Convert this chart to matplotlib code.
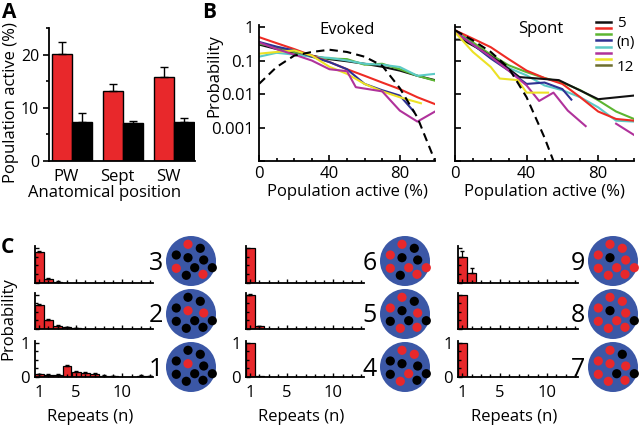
import numpy as np
import matplotlib
matplotlib.use('Agg')
import matplotlib.pyplot as plt
from matplotlib.patches import Circle
from matplotlib.lines import Line2D
from matplotlib.ticker import MultipleLocator, FixedLocator, NullLocator

plt.rcParams['font.family'] = ['Open Sans', 'DejaVu Sans']

#### data ####

# panel A: population active per anatomical position
positions = ['PW', 'Sept', 'SW']
evoked_mean = [20.2, 13.1, 15.8]
evoked_err = [2.2, 1.4, 1.8]
spont_mean = [7.3, 7.1, 7.4]
spont_err = [1.7, 0.5, 0.7]

# panel B: probability vs population active, one line per ensemble size
line_labels = ['5', '', '', '(n)', '', '', '', '12']
line_colors = ['#111111', '#ee2b24', '#5cb531', '#2e3192', '#5ccac6', '#b0329b', '#ece125', '#6d6e2e']

ev_x = [0, 10, 20, 30, 40, 50, 60, 70, 80, 90, 100]
ev_black = [0.30, 0.22, 0.17, 0.14, 0.11, 0.095, 0.08, 0.065, 0.05, 0.035, 0.026]
ev_red = [0.50, 0.33, 0.22, 0.14, 0.09, 0.055, 0.035, 0.022, 0.014, 0.008, 0.005]
ev_green = [0.32, 0.25, 0.18, 0.13, 0.115, 0.11, 0.075, 0.08, 0.055, 0.035, 0.025]
ev_blue_x = [0, 10, 20, 30, 40, 50, 60, 70, 80, 88]
ev_blue = [0.36, 0.26, 0.20, 0.13, 0.09, 0.055, 0.02, 0.013, 0.009, 0.003]
ev_cyan = [0.13, 0.17, 0.15, 0.13, 0.12, 0.10, 0.08, 0.075, 0.064, 0.035, 0.04]
ev_mag_x = [0, 10, 20, 30, 40, 50, 55, 70, 80, 90, 100]
ev_magenta = [0.35, 0.22, 0.15, 0.10, 0.055, 0.048, 0.016, 0.012, 0.0032, 0.0015, 0.003]
ev_yel_x = [0, 10, 20, 30, 40, 50, 60, 70, 80, 92]
ev_yellow = [0.16, 0.18, 0.20, 0.14, 0.065, 0.04, 0.02, 0.012, 0.008, 0.0053]
ev_model = [0.02, 0.064, 0.14, 0.18, 0.21, 0.18, 0.13, 0.07, 0.015, 0.002, 0.0001]

sp_black_x = [0, 4, 15, 25, 36, 58, 80, 100]
sp_black = [0.42, 0.42, 0.2, 0.09, 0.032, 0.026, 0.007, 0.009]
sp_x = [0, 10, 20, 30, 40, 50, 60, 70, 80, 90, 100]
sp_red = [0.8, 0.45, 0.25, 0.11, 0.05, 0.03, 0.02, 0.008, 0.003, 0.0018, 0.0016]
sp_green = [0.8, 0.35, 0.15, 0.072, 0.045, 0.03, 0.022, 0.013, 0.0065, 0.003, 0.0018]
sp_cyan = [0.75, 0.3, 0.12, 0.06, 0.036, 0.018, 0.013, 0.008, 0.004, 0.0016, 0.0015]
sp_blue_x = [0, 10, 20, 30, 40, 50, 60, 65]
sp_blue = [0.7, 0.3, 0.115, 0.05, 0.02, 0.022, 0.014, 0.0068]
sp_mag_x = [0, 10, 20, 30, 40, 47, 55, 63, 73, 80, 90, 100]
sp_magenta = [0.7, 0.3, 0.13, 0.05, 0.018, 0.0062, 0.011, 0.0032, 0.0011, np.nan, 0.0013, 0.0006]
sp_yel_x = [0, 10, 20, 25, 35, 40, 52]
sp_yellow = [0.7, 0.18, 0.064, 0.029, 0.026, 0.011, 0.011]
sp_model_x = [0, 10, 20, 30, 40, 50, 55]
sp_model = [0.8, 0.4, 0.18, 0.06, 0.008, 0.0005, 0.0001]

# panel C: probability of repeats for ensembles with 1..9 active cells
repeats = np.arange(1, 14)
prob_1 = [0.08, 0.07, 0.07, 0.32, 0.15, 0.13, 0.09, 0.04, 0.03, 0.01, 0.01, 0.04, 0.03]
prob_2 = [0.70, 0.26, 0.10, 0.05, 0.03, 0.01, 0, 0, 0.01, 0.01, 0, 0, 0]
prob_3 = [0.87, 0.12, 0.04, 0.01, 0, 0, 0, 0, 0, 0, 0, 0, 0]
prob_4 = [1.0, 0.02, 0, 0, 0, 0, 0, 0, 0, 0, 0, 0, 0]
prob_5 = [0.98, 0.08, 0, 0, 0, 0, 0, 0, 0, 0, 0, 0, 0]
prob_6 = [1.0, 0, 0, 0, 0, 0, 0, 0, 0, 0, 0, 0, 0]
prob_7 = [1.0, 0, 0, 0, 0, 0, 0, 0, 0, 0, 0, 0, 0]
prob_8 = [1.0, 0, 0, 0, 0, 0, 0, 0, 0, 0, 0, 0, 0]
prob_9 = [0.75, 0.29, 0, 0, 0, 0, 0, 0, 0, 0, 0, 0, 0]
err_1 = [0.02, 0.02, 0.02, 0.03, 0.03, 0.03, 0.02, 0.02, 0.01, 0, 0, 0.02, 0.01]
err_2 = [0.03, 0.03, 0.02, 0.01, 0.01, 0, 0, 0, 0, 0, 0, 0, 0]
err_3 = [0.03, 0.02, 0.01, 0, 0, 0, 0, 0, 0, 0, 0, 0, 0]
err_5 = [0.03, 0.02, 0, 0, 0, 0, 0, 0, 0, 0, 0, 0, 0]
err_9 = [0.15, 0.13, 0, 0, 0, 0, 0, 0, 0, 0, 0, 0, 0]

# which of the 10 whisker dots are active in each pattern
active_1 = [4]
active_2 = [4, 5]
active_3 = [1, 6, 10]
active_4 = [1, 2, 7, 9]
active_5 = [1, 3, 5, 9, 10]
active_6 = [1, 3, 6, 7, 8, 10]
active_7 = [1, 3, 4, 5, 6, 9, 10]
active_8 = [1, 2, 3, 5, 6, 7, 9, 10]
active_9 = [1, 2, 3, 5, 6, 7, 8, 9, 10]

#### figure ####
W, H = 640, 429
RED = '#e8282b'


def rect(l, t, r, b):
    return [l / W, 1 - b / H, (r - l) / W, (b - t) / H]


fig = plt.figure(figsize=(6.4, 4.29), dpi=100)

# ---- A ----
axA = fig.add_axes(rect(49, 28, 195, 161))
x = np.arange(len(positions))
bw = 0.39
axA.bar(x - bw / 2, evoked_mean, bw, color=RED, edgecolor='k', linewidth=1)
axA.bar(x + bw / 2, spont_mean, bw, color='k', edgecolor='k', linewidth=1)
axA.errorbar(x - bw / 2, evoked_mean, yerr=[np.zeros(3), evoked_err], fmt='none',
             ecolor='k', elinewidth=1, capsize=3)
axA.errorbar(x + bw / 2, spont_mean, yerr=[np.zeros(3), spont_err], fmt='none',
             ecolor='k', elinewidth=1, capsize=3)
axA.set_xlim(-0.45, 2.41)
axA.set_ylim(0, 25)
axA.set_xticks(x - 0.12)
axA.set_xticklabels(positions, fontsize=12)
axA.set_yticks([0, 10, 20])
axA.yaxis.set_minor_locator(FixedLocator([5, 15, 25]))
axA.tick_params(axis='x', length=0, pad=6)
axA.tick_params(axis='y', labelsize=11.5, length=4, width=1.2, pad=3)
axA.tick_params(axis='y', which='minor', length=2, width=1.2)
for s in ['top', 'right']:
    axA.spines[s].set_visible(False)
for s in ['left', 'bottom']:
    axA.spines[s].set_linewidth(1.3)
axA.set_ylabel('Population active (%)', fontsize=12)
axA.yaxis.set_label_coords(-0.205, 0.44)
axA.set_xlabel('Anatomical position', fontsize=12)
axA.xaxis.set_label_coords(0.38, -0.18)

# ---- B ----
axE = fig.add_axes(rect(259, 25, 435, 161))
axS = fig.add_axes(rect(455, 25, 634, 161))

axE.plot(ev_x, ev_black, color=line_colors[0], lw=1.5)
axE.plot(ev_x, ev_green, color=line_colors[2], lw=1.5)
axE.plot(ev_x, ev_cyan, color=line_colors[4], lw=1.5)
axE.plot(ev_x, ev_red, color=line_colors[1], lw=1.5)
axE.plot(ev_blue_x, ev_blue, color=line_colors[3], lw=1.5)
axE.plot(ev_yel_x, ev_yellow, color=line_colors[6], lw=1.5)
axE.plot(ev_mag_x, ev_magenta, color=line_colors[5], lw=1.5)
axE.plot(ev_x, ev_model, color='k', lw=1.5, ls=(0, (4, 2.5)))

axS.plot(sp_x, sp_green, color=line_colors[2], lw=1.5)
axS.plot(sp_x, sp_cyan, color=line_colors[4], lw=1.5)
axS.plot(sp_x, sp_red, color=line_colors[1], lw=1.5)
axS.plot(sp_black_x, sp_black, color=line_colors[0], lw=1.5)
axS.plot(sp_blue_x, sp_blue, color=line_colors[3], lw=1.5)
axS.plot(sp_mag_x, sp_magenta, color=line_colors[5], lw=1.5)
axS.plot(sp_yel_x, sp_yellow, color=line_colors[6], lw=1.5)
axS.plot(sp_model_x, sp_model, color='k', lw=1.5, ls=(0, (4, 2.5)))

for ax in (axE, axS):
    ax.set_yscale('log')
    ax.set_ylim(1e-4, 1.15)
    ax.set_xlim(0, 100)
    ax.set_yticks([1, 0.1, 0.01, 0.001, 0.0001])
    ax.yaxis.set_minor_locator(NullLocator())
    ax.set_xticks([0, 40, 80])
    ax.xaxis.set_minor_locator(MultipleLocator(10))
    ax.tick_params(direction='in', length=4, width=1.2, labelsize=12)
    ax.tick_params(which='minor', direction='in', length=2.5, width=1.2)
    for s in ['top', 'right']:
        ax.spines[s].set_visible(False)
    for s in ['left', 'bottom']:
        ax.spines[s].set_linewidth(1.3)
    ax.set_xlabel('Population active (%)', fontsize=12)
    ax.xaxis.set_label_coords(0.5, -0.17)

axE.set_yticklabels(['1', '0.1', '0.01', '0.001', ''])
axS.set_yticklabels([])
axE.set_ylabel('Probability', fontsize=12)
axE.yaxis.set_label_coords(-0.21, 0.63)
axE.text(0.5, 1.02, 'Evoked', transform=axE.transAxes, ha='center', va='top', fontsize=12)
axS.text(0.48, 1.03, 'Spont', transform=axS.transAxes, ha='center', va='top', fontsize=12)

handles = [Line2D([], [], color=c, lw=1.8) for c in line_colors]
axS.legend(handles, line_labels, loc='upper left', bbox_to_anchor=(596 / W, 1 - 16 / H),
           bbox_transform=fig.transFigure, frameon=False, fontsize=11,
           handlelength=1.0, handletextpad=0.35, labelspacing=-0.575,
           borderpad=0, borderaxespad=0)

# ---- C ----
col_lr = [(35, 153), (246, 364), (458, 578)]
row_tb = [(246, 283), (293, 329), (341, 377)]
grid_probs = [[prob_3, prob_2, prob_1], [prob_6, prob_5, prob_4], [prob_9, prob_8, prob_7]]
grid_errs = [[err_3, err_2, err_1], [None, err_5, None], [err_9, None, None]]

for ci, (l, r) in enumerate(col_lr):
    for ri, (t, b) in enumerate(row_tb):
        ax = fig.add_axes(rect(l, t, r, b))
        p = grid_probs[ci][ri]
        ax.bar(repeats, p, 0.95, color=RED, edgecolor='k', linewidth=0.9)
        e = grid_errs[ci][ri]
        if e is not None:
            e = np.array(e)
            m = e > 0
            ax.errorbar(repeats[m], np.array(p)[m], yerr=[np.zeros(m.sum()), e[m]], fmt='none',
                        ecolor='k', elinewidth=0.9, capsize=1.5)
        ax.set_xlim(0.55, 13.3)
        ax.set_ylim(0, 1.05)
        ax.set_xticks([1, 5, 10])
        ax.xaxis.set_minor_locator(MultipleLocator(1))
        ax.set_yticks([0, 1])
        ax.yaxis.set_minor_locator(MultipleLocator(0.25))
        ax.tick_params(direction='in', length=3, width=1, labelsize=12)
        ax.tick_params(which='minor', direction='in', length=2, width=1)
        ax.tick_params(axis='x', pad=6)
        for s in ['top', 'right']:
            ax.spines[s].set_visible(False)
        for s in ['left', 'bottom']:
            ax.spines[s].set_linewidth(1.3)
        if ri < 2:
            ax.set_xticklabels([])
            ax.set_yticklabels([])
        else:
            ax.set_xlabel('Repeats (n)', fontsize=12)
            ax.xaxis.set_label_coords(0.47, -0.9)

# overlay in pixel coordinates for circles and panel letters
ov = fig.add_axes([0, 0, 1, 1])
ov.set_xlim(0, W)
ov.set_ylim(H, 0)
ov.axis('off')

dot_dx = [-3, 9.3, -14.7, -3, 12.7, -14.7, 3.7, 21.3, -4.7, 12]
dot_dy = [-16.7, -12.7, -6, -3.3, -1, 7.3, 6.7, 6.7, 14.3, 13.3]
circle_x = [191, 405, 613]
circle_y = [261, 314, 367]
grid_active = [[active_3, active_2, active_1], [active_6, active_5, active_4],
               [active_9, active_8, active_7]]
for ci, cx in enumerate(circle_x):
    for ri, cy in enumerate(circle_y):
        act = grid_active[ci][ri]
        ov.add_patch(Circle((cx, cy), 25, color='#3b57a6', lw=0))
        for k in range(10):
            col = RED if (k + 1) in act else 'k'
            ov.add_patch(Circle((cx + dot_dx[k], cy + dot_dy[k]), 4.6, color=col, lw=0))
        ov.text(cx - 35, cy + 2, str(len(act)), ha='center', va='center', fontsize=18)

ov.text(2, 2, 'A', ha='left', va='top', fontsize=15, fontweight='bold')
ov.text(202, 2, 'B', ha='left', va='top', fontsize=15, fontweight='bold')
ov.text(1, 237, 'C', ha='left', va='top', fontsize=15, fontweight='bold')
ov.text(8, 319, 'Probability', ha='center', va='center', rotation=90, fontsize=12)

fig.savefig('out.png', dpi=100)
